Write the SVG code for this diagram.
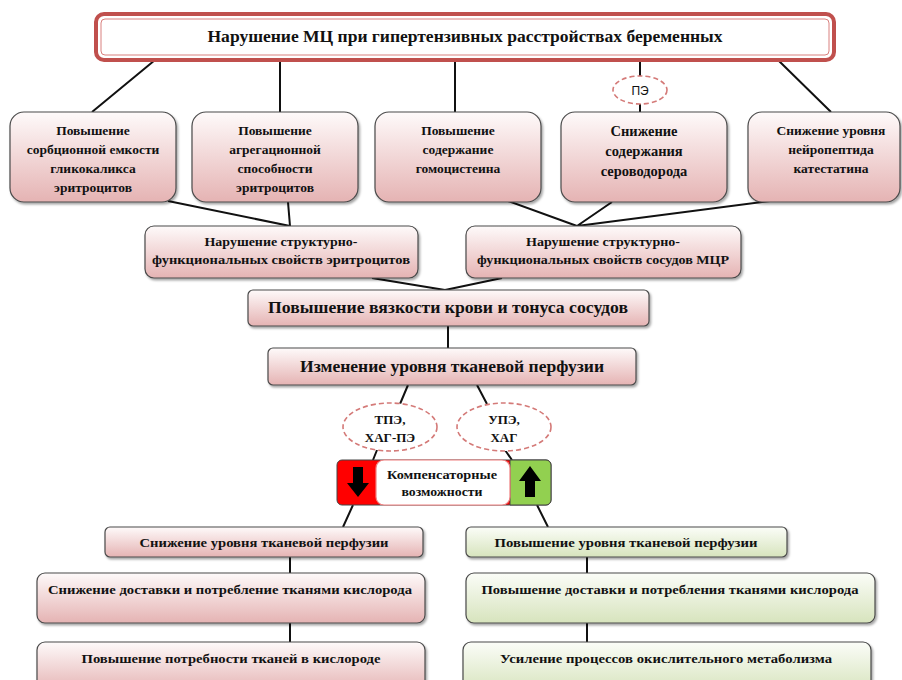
<svg xmlns="http://www.w3.org/2000/svg" width="902" height="680" viewBox="0 0 902 680">
<defs>
<linearGradient id="pink" x1="0" y1="0" x2="0" y2="1">
<stop offset="0" stop-color="#fefafa"/>
<stop offset="1" stop-color="#e5b3b3"/>
</linearGradient>
<linearGradient id="green" x1="0" y1="0" x2="0" y2="1">
<stop offset="0" stop-color="#fbfdf8"/>
<stop offset="1" stop-color="#d7e4bd"/>
</linearGradient>
<filter id="sh" x="-10%" y="-10%" width="125%" height="140%">
<feDropShadow dx="1.5" dy="2" stdDeviation="1.2" flood-color="#000" flood-opacity="0.35"/>
</filter>
</defs>
<style>
.box{fill:url(#pink);stroke:#4a4a4a;stroke-width:1.2;filter:url(#sh)}
.gbox{fill:url(#green);stroke:#4a4a4a;stroke-width:1.2;filter:url(#sh)}
.t{font-family:'Liberation Serif','Times New Roman','DejaVu Serif',serif;font-weight:bold;fill:#111;text-anchor:middle}
.s13{font-size:13.5px}
.s12{font-size:13px}
.s14{font-size:14.5px}
.s15{font-size:16px}
.s16{font-size:17.5px}
.ln{stroke:#111;stroke-width:2;fill:none}
.el{fill:#fff;stroke:#d47a78;stroke-width:1.6;stroke-dasharray:5 3}
</style>

<g id="connectors">
<path class="ln" d="M155 60 L92 112 M280 60 L280 112 M455 60 L455 112 M640 60 L640 78 M640 103 L640 112 M778 60 L831 112"/>
<path class="ln" d="M168 201 L290 226 M288 202 L290 226"/>
<path class="ln" d="M508 201 L577 226 M612 202 L577 226 M770 201 L577 226"/>
<path class="ln" d="M372 278 L445 290 M502 278 L445 290"/>
<path class="ln" d="M448 326 L448 348"/>
<path class="ln" d="M408 385 L400 404 M477 385 L487 404"/>
<path class="ln" d="M377 450 L373 460 M505 450 L512 460"/>
<path class="ln" d="M353 505 L343 527 M537 505 L548 527"/>
<path class="ln" d="M290 557 L290 573 M290 623 L290 642"/>
<path class="ln" d="M587 557 L587 573 M587 623 L587 642"/>
</g>

<g id="title">
<rect x="96" y="14" width="738" height="46" rx="8" fill="#fff" stroke="#c0504d" stroke-width="4"/>
<rect x="101" y="19" width="728" height="36" rx="4" fill="#fff" stroke="#d9807e" stroke-width="1"/>
<text class="t s15" x="465" y="42" textLength="515" lengthAdjust="spacingAndGlyphs">Нарушение МЦ при гипертензивных расстройствах беременных</text>
</g>

<g id="pe">
<ellipse class="el" cx="640" cy="90" rx="27" ry="14"/>
<text x="640" y="95" font-family="'Liberation Sans',Arial,sans-serif" font-size="12" text-anchor="middle" fill="#111">ПЭ</text>
</g>

<g id="n1">
<rect class="box" x="10" y="112" width="166" height="90" rx="14"/>
<text class="t s13"><tspan x="93" y="135">Повышение</tspan><tspan x="93" y="154">сорбционной емкости</tspan><tspan x="93" y="173">гликокаликса</tspan><tspan x="93" y="192">эритроцитов</tspan></text>
</g>
<g id="n2">
<rect class="box" x="192" y="112" width="166" height="90" rx="14"/>
<text class="t s13"><tspan x="275" y="135">Повышение</tspan><tspan x="275" y="154">агрегационной</tspan><tspan x="275" y="173">способности</tspan><tspan x="275" y="192">эритроцитов</tspan></text>
</g>
<g id="n3">
<rect class="box" x="375" y="112" width="166" height="90" rx="14"/>
<text class="t s13"><tspan x="458" y="135">Повышение</tspan><tspan x="458" y="154">содержание</tspan><tspan x="458" y="173">гомоцистеина</tspan></text>
</g>
<g id="n4">
<rect class="box" x="561" y="112" width="166" height="90" rx="14"/>
<text class="t s14"><tspan x="644" y="136">Снижение</tspan><tspan x="644" y="156">содержания</tspan><tspan x="644" y="176">сероводорода</tspan></text>
</g>
<g id="n5">
<rect class="box" x="748" y="112" width="152" height="90" rx="14"/>
<text class="t s13"><tspan x="831" y="135">Снижение уровня</tspan><tspan x="831" y="154">нейропептида</tspan><tspan x="831" y="173">катестатина</tspan></text>
</g>

<g id="nA">
<rect class="box" x="145" y="226" width="273" height="52" rx="9"/>
<text class="t s12"><tspan x="281" y="246" textLength="153" lengthAdjust="spacingAndGlyphs">Нарушение структурно-</tspan><tspan x="281" y="264" textLength="258" lengthAdjust="spacingAndGlyphs">функциональных свойств эритроцитов</tspan></text>
</g>
<g id="nB">
<rect class="box" x="466" y="226" width="275" height="52" rx="9"/>
<text class="t s12"><tspan x="603" y="246" textLength="154" lengthAdjust="spacingAndGlyphs">Нарушение структурно-</tspan><tspan x="603" y="264" textLength="252" lengthAdjust="spacingAndGlyphs">функциональных свойств сосудов МЦР</tspan></text>
</g>

<g id="visc">
<rect class="box" x="248" y="290" width="401" height="36" rx="5"/>
<text class="t s15" x="448" y="313" textLength="360" lengthAdjust="spacingAndGlyphs">Повышение вязкости крови и тонуса сосудов</text>
</g>

<g id="perf">
<rect class="box" x="268" y="348" width="368" height="37" rx="5"/>
<text class="t s16" x="452" y="372" textLength="304" lengthAdjust="spacingAndGlyphs">Изменение уровня тканевой перфузии</text>
</g>

<g id="e1">
<ellipse class="el" cx="390" cy="427" rx="47" ry="24"/>
<text class="t s12"><tspan x="390" y="424">ТПЭ,</tspan><tspan x="390" y="442">ХАГ-ПЭ</tspan></text>
</g>
<g id="e2">
<ellipse class="el" cx="504" cy="427" rx="47" ry="24"/>
<text class="t s12"><tspan x="504" y="424">УПЭ,</tspan><tspan x="504" y="442">ХАГ</tspan></text>
</g>

<g id="comp">
<rect x="337" y="460" width="214" height="45" rx="5" fill="#ff0000" stroke="#444" stroke-width="1"/>
<path d="M510 460 H546 A5 5 0 0 1 551 465 V500 A5 5 0 0 1 546 505 H510 Z" fill="#92d050" stroke="#444" stroke-width="1"/>
<rect x="376" y="460" width="134" height="45" rx="8" fill="#fff" stroke="#f08080" stroke-width="1.2"/>
<path d="M353 467 H363 V483 H369 L358 497 L347 483 H353 Z" fill="#000"/>
<path d="M525 497 H535 V481 H541 L530 466 L519 481 H525 Z" fill="#000"/>
<text class="t s12"><tspan x="442" y="479" textLength="110" lengthAdjust="spacingAndGlyphs">Компенсаторные</tspan><tspan x="442" y="496" textLength="81" lengthAdjust="spacingAndGlyphs">возможности</tspan></text>
</g>

<g id="L1">
<rect class="box" x="105" y="527" width="318" height="30" rx="5"/>
<text class="t s13" x="264" y="547" textLength="249" lengthAdjust="spacingAndGlyphs">Снижение уровня тканевой перфузии</text>
</g>
<g id="L2">
<rect class="box" x="37" y="573" width="388" height="50" rx="8"/>
<text class="t s13" x="230" y="594" textLength="364" lengthAdjust="spacingAndGlyphs">Снижение доставки и потребление тканями кислорода</text>
</g>
<g id="L3">
<rect class="box" x="37" y="642" width="388" height="50" rx="8"/>
<text class="t s13" x="231" y="663" textLength="299" lengthAdjust="spacingAndGlyphs">Повышение потребности тканей в кислороде</text>
</g>

<g id="R1">
<rect class="gbox" x="466" y="527" width="321" height="30" rx="5"/>
<text class="t s13" x="626" y="547" textLength="263" lengthAdjust="spacingAndGlyphs">Повышение уровня тканевой перфузии</text>
</g>
<g id="R2">
<rect class="gbox" x="466" y="573" width="409" height="50" rx="8"/>
<text class="t s13" x="670" y="594" textLength="377" lengthAdjust="spacingAndGlyphs">Повышение доставки и потребления тканями кислорода</text>
</g>
<g id="R3">
<rect class="gbox" x="463" y="642" width="408" height="50" rx="8"/>
<text class="t s13" x="666" y="663" textLength="332" lengthAdjust="spacingAndGlyphs">Усиление процессов окислительного метаболизма</text>
</g>
</svg>
